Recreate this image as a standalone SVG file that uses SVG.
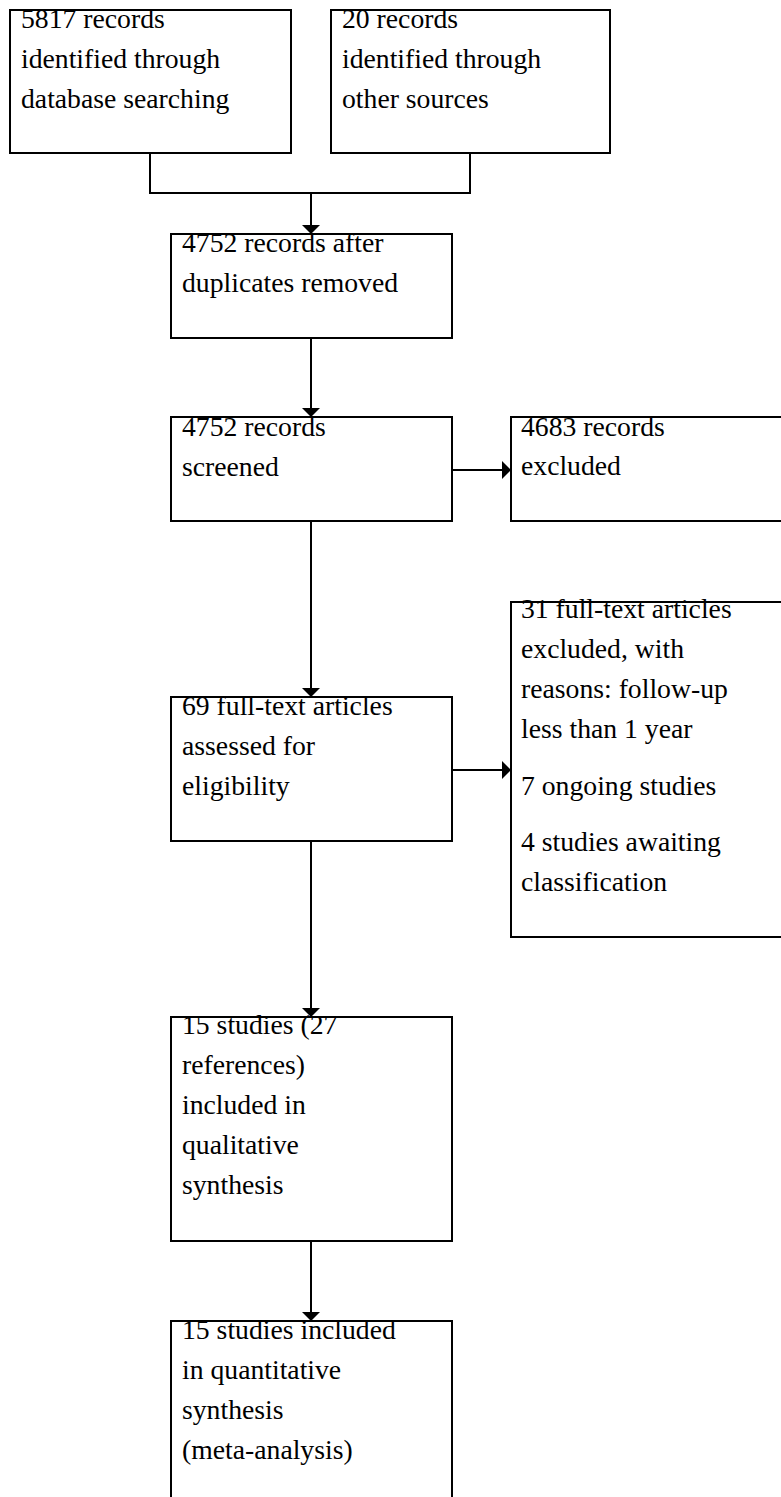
<svg xmlns="http://www.w3.org/2000/svg" width="781" height="1497" viewBox="0 0 781 1497">
<defs>
<style>
.box{fill:#fff;stroke:#000;stroke-width:2}
.t{font-family:"Liberation Serif","Times New Roman",serif;font-size:27.7px;fill:#000}
.c{fill:none;stroke:#000;stroke-width:2}
.ah{fill:#000;stroke:none}
</style>
</defs>
<rect width="781" height="1497" fill="#fff"/>
<g id="n1"><rect class="box" x="10" y="10" width="281" height="143"/>
<text class="t" x="21" y="28">5817 records</text><text class="t" x="21" y="68">identified through</text><text class="t" x="21" y="108">database searching</text></g>
<g id="n2"><rect class="box" x="331" y="10" width="279" height="143"/>
<text class="t" x="342" y="28">20 records</text><text class="t" x="342" y="68">identified through</text><text class="t" x="342" y="108">other sources</text></g>
<g id="n3"><rect class="box" x="171" y="234" width="281" height="104"/>
<text class="t" x="182" y="252">4752 records after</text><text class="t" x="182" y="292">duplicates removed</text></g>
<g id="n4"><rect class="box" x="171" y="417" width="281" height="104"/>
<text class="t" x="182" y="436">4752 records</text><text class="t" x="182" y="476">screened</text></g>
<g id="n5"><rect class="box" x="511" y="417" width="280" height="104"/>
<text class="t" x="521" y="436">4683 records</text><text class="t" x="521" y="475">excluded</text></g>
<g id="n6"><rect class="box" x="171" y="697" width="281" height="144"/>
<text class="t" x="182" y="715">69 full-text articles</text><text class="t" x="182" y="755">assessed for</text><text class="t" x="182" y="795">eligibility</text></g>
<g id="n7"><rect class="box" x="511" y="602" width="280" height="335"/>
<text class="t" x="521" y="618">31 full-text articles</text><text class="t" x="521" y="658">excluded, with</text><text class="t" x="521" y="698">reasons: follow-up</text><text class="t" x="521" y="738">less than 1 year</text>
<text class="t" x="521" y="795">7 ongoing studies</text>
<text class="t" x="521" y="851">4 studies awaiting</text><text class="t" x="521" y="891">classification</text></g>
<g id="n8"><rect class="box" x="171" y="1017" width="281" height="224"/>
<text class="t" x="182" y="1034">15 studies (27</text><text class="t" x="182" y="1074">references)</text><text class="t" x="182" y="1114">included in</text><text class="t" x="182" y="1154">qualitative</text><text class="t" x="182" y="1194">synthesis</text></g>
<g id="n9"><rect class="box" x="171" y="1321" width="281" height="200"/>
<text class="t" x="182" y="1339">15 studies included</text><text class="t" x="182" y="1379">in quantitative</text><text class="t" x="182" y="1419">synthesis</text><text class="t" x="182" y="1459">(meta-analysis)</text></g>
<g id="connectors">
<path class="c" d="M150,153 V193 H470 V153"/>
<path class="c" d="M311,193 V226"/><path class="ah" d="M302,225 H320 L311,234 Z"/>
<path class="c" d="M311,338 V409"/><path class="ah" d="M302,408 H320 L311,417 Z"/>
<path class="c" d="M452,470 H503"/><path class="ah" d="M502,461 V479 L511,470 Z"/>
<path class="c" d="M311,521 V689"/><path class="ah" d="M302,688 H320 L311,697 Z"/>
<path class="c" d="M452,770 H503"/><path class="ah" d="M502,761 V779 L511,770 Z"/>
<path class="c" d="M311,841 V1009"/><path class="ah" d="M302,1008 H320 L311,1017 Z"/>
<path class="c" d="M311,1241 V1313"/><path class="ah" d="M302,1312 H320 L311,1321 Z"/>
</g>
</svg>
